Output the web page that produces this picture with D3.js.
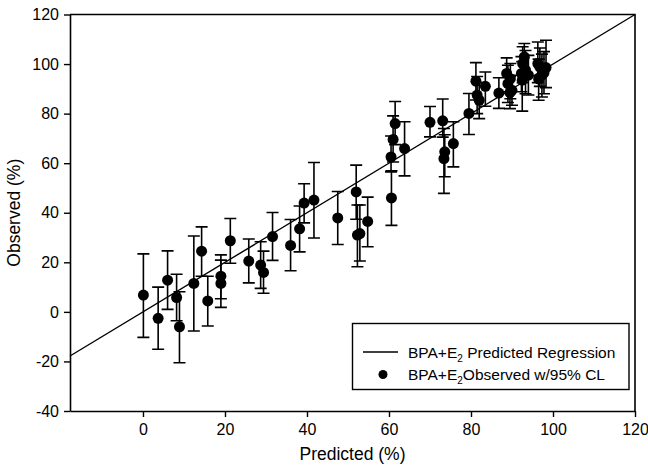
<!DOCTYPE html>
<html>
<head>
<meta charset="utf-8">
<script src="https://cdn.jsdelivr.net/npm/d3@7"></script>
<style>
  html, body { margin: 0; padding: 0; background: #fff; }
  svg { display: block; }
  text { font-family: "Liberation Sans", Arial, Helvetica, sans-serif; fill: #000; }
</style>
</head>
<body>
<svg id="chart" width="648" height="467"></svg>
<script>
// Predicted vs observed response (%), with 95% confidence limits
const predicted = [0.1, 3.7, 6.0, 8.2, 8.9, 12.4, 14.3, 15.8, 19.0, 19.0,
  21.3, 25.8, 28.7, 29.4, 31.6, 36.0, 38.2, 39.3, 41.7, 47.5,
  52.0, 52.3, 52.9, 54.8, 60.6, 60.5, 61.0, 61.5, 63.8, 70.0,
  73.1, 73.6, 73.4, 75.7, 79.5, 81.2, 81.5, 82.0, 83.5, 86.8,
  89.0, 89.6, 90.0, 89.5, 92.6, 93.0, 93.3, 92.5, 94.0, 96.3,
  96.8, 97.3, 96.5, 98.3, 97.8, 88.7, 92.3];
const observed = [6.8, -2.6, 12.8, 5.8, -6.0, 11.5, 24.5, 4.4, 14.4, 11.5,
  28.7, 20.5, 18.9, 15.9, 30.4, 26.8, 33.5, 43.9, 45.1, 37.9,
  48.4, 31.0, 31.6, 36.5, 46.0, 62.5, 69.6, 76.0, 65.9, 76.5,
  77.1, 64.6, 61.8, 67.9, 80.1, 93.1, 87.5, 85.4, 91.0, 88.3,
  92.1, 94.1, 89.4, 88.5, 100.2, 102.9, 97.5, 93.5, 95.5, 100.2,
  98.8, 95.5, 94.0, 98.6, 96.5, 96.2, 96.2];
const ciLow = [-10.3, -15.1, 1.0, -3.6, -20.5, -7.7, 14.4, -5.7, 5.3, 1.8,
  19.6, 11.7, 9.5, 7.5, 20.8, 16.6, 24.2, 35.9, 29.8, 27.2,
  37.4, 18.2, 20.5, 26.3, 34.9, 56.5, 60.5, 67.5, 54.9, 70.6,
  70.5, 54.5, 47.8, 58.5, 71.6, 85.5, 80.0, 78.0, 83.0, 82.1,
  84.5, 86.0, 83.4, 82.0, 92.5, 96.0, 88.0, 81.0, 87.5, 92.5,
  91.0, 86.7, 85.4, 90.5, 88.0, 88.8, 88.8];
const ciHigh = [23.4, 10.0, 24.6, 15.2, 8.1, 30.6, 34.3, 14.4, 23.0, 20.9,
  37.7, 29.4, 28.3, 24.5, 40.1, 37.3, 42.7, 51.7, 60.3, 48.6,
  59.2, 43.1, 43.1, 46.3, 56.9, 71.0, 79.1, 84.9, 76.7, 82.9,
  85.9, 71.5, 74.0, 76.7, 88.1, 100.6, 95.0, 92.5, 96.8, 94.5,
  99.5, 100.2, 95.5, 95.0, 107.0, 108.3, 105.5, 101.0, 103.5, 108.9,
  106.5, 104.0, 102.0, 109.6, 105.0, 102.5, 103.0];

// Regression of observed on predicted: identity line across the x range
const regressionX = [-17.8, 120];
const regressionSlope = 1;
const regressionIntercept = 0;

const xTicks = [0, 20, 40, 60, 80, 100, 120];
const yTicks = [-40, -20, 0, 20, 40, 60, 80, 100, 120];

const svg = d3.select("#chart");
const plotLeft = 70, plotRight = 635, plotTop = 14.5, plotBottom = 411;

const x = d3.scaleLinear().domain([-17.8, 120]).range([plotLeft, plotRight]);
const y = d3.scaleLinear().domain([-40, 120]).range([plotBottom, plotTop]);

// Frame (top and right edges)
svg.append("path")
  .attr("d", `M${plotLeft},${plotTop}H${plotRight}V${plotBottom}`)
  .attr("fill", "none").attr("stroke", "#000").attr("stroke-width", 1.6);

// Axes (plain hyphen for negative labels)
const plain = d => String(d);
const xAxis = svg.append("g")
  .attr("transform", `translate(0,${plotBottom})`)
  .call(d3.axisBottom(x).tickValues(xTicks).tickFormat(plain)
    .tickSize(6).tickSizeOuter(0).tickPadding(7));
const yAxis = svg.append("g")
  .attr("transform", `translate(${plotLeft},0)`)
  .call(d3.axisLeft(y).tickValues(yTicks).tickFormat(plain)
    .tickSize(6).tickSizeOuter(0).tickPadding(5));

[xAxis, yAxis].forEach(g => {
  g.select(".domain").attr("stroke", "#000").attr("stroke-width", 1.6);
  g.selectAll(".tick line").attr("stroke", "#000").attr("stroke-width", 1.4);
  g.selectAll(".tick text")
    .style("font-family", '"Liberation Sans", Arial, sans-serif')
    .style("font-size", "16px").attr("fill", "#000");
});

// Axis titles
svg.append("text")
  .attr("x", (plotLeft + plotRight) / 2).attr("y", 460)
  .attr("text-anchor", "middle").style("font-size", "17.5px")
  .text("Predicted (%)");
svg.append("text")
  .attr("transform", `translate(20,${(plotTop + plotBottom) / 2}) rotate(-90)`)
  .attr("text-anchor", "middle").style("font-size", "17.5px")
  .text("Observed (%)");

// Regression line
svg.append("line")
  .attr("x1", x(regressionX[0])).attr("y1", y(regressionIntercept + regressionSlope * regressionX[0]))
  .attr("x2", x(regressionX[1])).attr("y2", y(regressionIntercept + regressionSlope * regressionX[1]))
  .attr("stroke", "#000").attr("stroke-width", 1.4);

// Error bars with caps
const capHalf = 6;
const bars = svg.append("g").attr("stroke", "#000").attr("stroke-width", 1.6).attr("fill", "none");
predicted.forEach((p, i) => {
  const cx = x(p);
  bars.append("path").attr("d",
    `M${cx},${y(ciLow[i])}V${y(ciHigh[i])}` +
    `M${cx - capHalf},${y(ciHigh[i])}H${cx + capHalf}` +
    `M${cx - capHalf},${y(ciLow[i])}H${cx + capHalf}`);
});

// Observed points
svg.append("g").selectAll("circle")
  .data(predicted)
  .join("circle")
  .attr("cx", d => x(d))
  .attr("cy", (d, i) => y(observed[i]))
  .attr("r", 5.5)
  .attr("fill", "#000");

// Legend
const legend = svg.append("g");
legend.append("rect")
  .attr("x", 352.5).attr("y", 323.5).attr("width", 276.5).attr("height", 66)
  .attr("fill", "#fff").attr("stroke", "#000").attr("stroke-width", 1.4);
legend.append("line")
  .attr("x1", 363).attr("x2", 398).attr("y1", 352).attr("y2", 352)
  .attr("stroke", "#000").attr("stroke-width", 1.4);
legend.append("circle").attr("cx", 383).attr("cy", 374.5).attr("r", 4.5).attr("fill", "#000");

const t1 = legend.append("text").attr("x", 408).attr("y", 357.5).style("font-size", "15.5px");
t1.append("tspan").text("BPA+E");
t1.append("tspan").attr("dy", 4).style("font-size", "10px").text("2");
t1.append("tspan").attr("dy", -4).text(" Predicted Regression");

const t2 = legend.append("text").attr("x", 408).attr("y", 380).style("font-size", "15.5px");
t2.append("tspan").text("BPA+E");
t2.append("tspan").attr("dy", 4).style("font-size", "10px").text("2");
t2.append("tspan").attr("dy", -4).text("Observed w/95% CL");
</script>
</body>
</html>
